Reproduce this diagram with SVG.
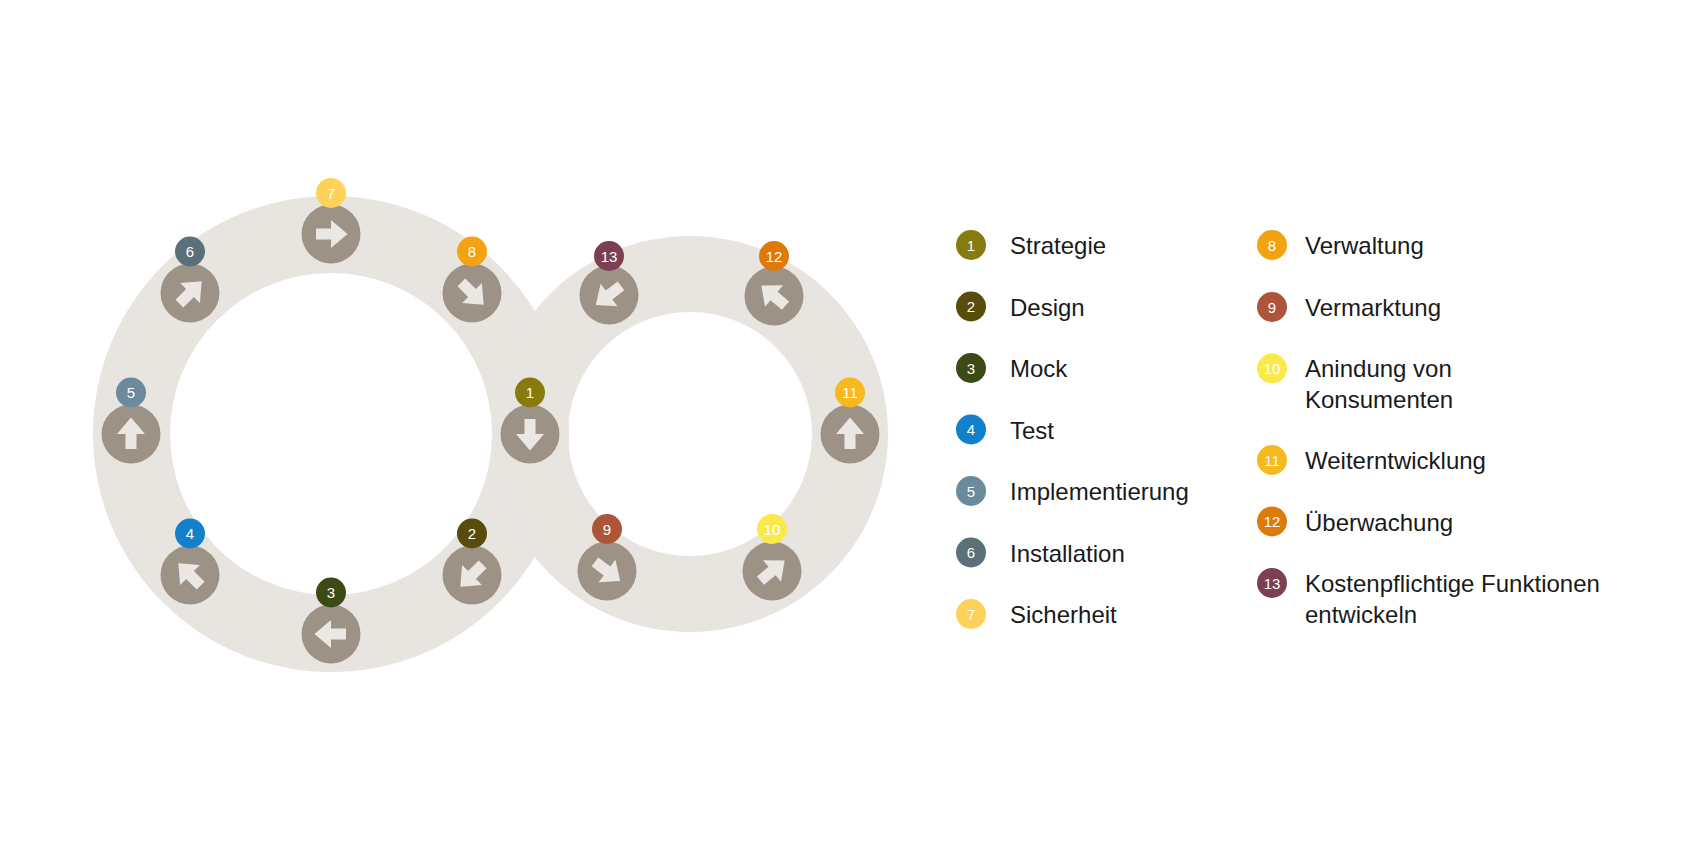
<svg xmlns="http://www.w3.org/2000/svg" xmlns:xlink="http://www.w3.org/1999/xlink" width="1700" height="850" viewBox="0 0 1700 850">
<style>
.ring{fill:#e8e5e1;fill-rule:evenodd}
.ac{fill:#9c9386}
.ag{fill:#ebe8e4}
.bt{font-family:"Liberation Sans",Arial,sans-serif;font-size:15px;fill:#ffffff;text-anchor:middle}
.lt{font-family:"Liberation Sans",Arial,sans-serif;font-size:24px;fill:#1a1a1a}
</style>
<defs>
<polygon id="arr" class="ag" points="-15,-5.5 0,-5.5 0,-14 16.5,0 0,14 0,5.5 -15,5.5"/>
</defs>
<rect width="1700" height="850" fill="#ffffff"/>
<g id="rings">
<path class="ring" d="M93,434a238,238 0 1,0 476,0a238,238 0 1,0 -476,0ZM170,434a161,161 0 1,0 322,0a161,161 0 1,0 -322,0Z"/>
<path class="ring" d="M492,434a198,198 0 1,0 396,0a198,198 0 1,0 -396,0ZM568,434a122,122 0 1,0 244,0a122,122 0 1,0 -244,0Z"/>
</g>
<g id="connectors"></g>
<g id="n1"><circle class="ac" cx="530" cy="434" r="29.5"/><use href="#arr" transform="translate(530,434) rotate(90)"/><circle cx="530" cy="392.5" r="15" fill="#877a0e"/><text class="bt" x="530" y="398">1</text></g>
<g id="n2"><circle class="ac" cx="472" cy="575" r="29.5"/><use href="#arr" transform="translate(472,575) rotate(135)"/><circle cx="472" cy="533.5" r="15" fill="#574c0a"/><text class="bt" x="472" y="539">2</text></g>
<g id="n3"><circle class="ac" cx="331" cy="634" r="29.5"/><use href="#arr" transform="translate(331,634) rotate(180)"/><circle cx="331" cy="592.5" r="15" fill="#3c4a16"/><text class="bt" x="331" y="598">3</text></g>
<g id="n4"><circle class="ac" cx="190" cy="575" r="29.5"/><use href="#arr" transform="translate(190,575) rotate(-135)"/><circle cx="190" cy="533.5" r="15" fill="#1380cc"/><text class="bt" x="190" y="539">4</text></g>
<g id="n5"><circle class="ac" cx="131" cy="434" r="29.5"/><use href="#arr" transform="translate(131,434) rotate(-90)"/><circle cx="131" cy="392.5" r="15" fill="#6b8a9b"/><text class="bt" x="131" y="398">5</text></g>
<g id="n6"><circle class="ac" cx="190" cy="293" r="29.5"/><use href="#arr" transform="translate(190,293) rotate(-45)"/><circle cx="190" cy="251.5" r="15" fill="#5b7079"/><text class="bt" x="190" y="257">6</text></g>
<g id="n7"><circle class="ac" cx="331" cy="234" r="29.5"/><use href="#arr" transform="translate(331,234)"/><circle cx="331" cy="193" r="15" fill="#fdd15a"/><text class="bt" x="331" y="198.5">7</text></g>
<g id="n8"><circle class="ac" cx="472" cy="293" r="29.5"/><use href="#arr" transform="translate(472,293) rotate(45)"/><circle cx="472" cy="251.5" r="15" fill="#f2a30f"/><text class="bt" x="472" y="257">8</text></g>
<g id="n9"><circle class="ac" cx="607" cy="571" r="29.5"/><use href="#arr" transform="translate(607,571) rotate(37)"/><circle cx="607" cy="529" r="15" fill="#ad5539"/><text class="bt" x="607" y="534.5">9</text></g>
<g id="n10"><circle class="ac" cx="772" cy="571" r="29.5"/><use href="#arr" transform="translate(772,571) rotate(-40)"/><circle cx="772" cy="529" r="15" fill="#f9e94a"/><text class="bt" x="772" y="534.5">10</text></g>
<g id="n11"><circle class="ac" cx="850" cy="434" r="29.5"/><use href="#arr" transform="translate(850,434) rotate(-90)"/><circle cx="850" cy="392.5" r="15" fill="#f7b91f"/><text class="bt" x="850" y="398">11</text></g>
<g id="n12"><circle class="ac" cx="774" cy="296" r="29.5"/><use href="#arr" transform="translate(774,296) rotate(-140)"/><circle cx="774" cy="256" r="15" fill="#dd7a0a"/><text class="bt" x="774" y="261.5">12</text></g>
<g id="n13"><circle class="ac" cx="609" cy="295" r="29.5"/><use href="#arr" transform="translate(609,295) rotate(143)"/><circle cx="609" cy="256" r="15" fill="#7c4052"/><text class="bt" x="609" y="261.5">13</text></g>
<g id="legend">
<g id="l1"><circle cx="971" cy="245" r="15" fill="#877a0e"/><text class="bt" x="971" y="250.5">1</text><text class="lt" x="1010" y="254">Strategie</text></g>
<g id="l2"><circle cx="971" cy="306.5" r="15" fill="#574c0a"/><text class="bt" x="971" y="312">2</text><text class="lt" x="1010" y="315.5">Design</text></g>
<g id="l3"><circle cx="971" cy="368" r="15" fill="#3c4a16"/><text class="bt" x="971" y="373.5">3</text><text class="lt" x="1010" y="377">Mock</text></g>
<g id="l4"><circle cx="971" cy="429.5" r="15" fill="#1380cc"/><text class="bt" x="971" y="435">4</text><text class="lt" x="1010" y="438.5">Test</text></g>
<g id="l5"><circle cx="971" cy="491" r="15" fill="#6b8a9b"/><text class="bt" x="971" y="496.5">5</text><text class="lt" x="1010" y="500">Implementierung</text></g>
<g id="l6"><circle cx="971" cy="552.5" r="15" fill="#5b7079"/><text class="bt" x="971" y="558">6</text><text class="lt" x="1010" y="561.5">Installation</text></g>
<g id="l7"><circle cx="971" cy="614" r="15" fill="#fdd15a"/><text class="bt" x="971" y="619.5">7</text><text class="lt" x="1010" y="623">Sicherheit</text></g>
<g id="l8"><circle cx="1272" cy="245" r="15" fill="#f2a30f"/><text class="bt" x="1272" y="250.5">8</text><text class="lt" x="1305" y="254">Verwaltung</text></g>
<g id="l9"><circle cx="1272" cy="307" r="15" fill="#ad5539"/><text class="bt" x="1272" y="312.5">9</text><text class="lt" x="1305" y="316">Vermarktung</text></g>
<g id="l10"><circle cx="1272" cy="368.5" r="15" fill="#f9e94a"/><text class="bt" x="1272" y="374">10</text><text class="lt" x="1305" y="377"><tspan x="1305">Anindung von</tspan><tspan x="1305" dy="30.7">Konsumenten</tspan></text></g>
<g id="l11"><circle cx="1272" cy="460" r="15" fill="#f7b91f"/><text class="bt" x="1272" y="465.5">11</text><text class="lt" x="1305" y="469">Weiterntwicklung</text></g>
<g id="l12"><circle cx="1272" cy="521.5" r="15" fill="#dd7a0a"/><text class="bt" x="1272" y="527">12</text><text class="lt" x="1305" y="530.5">Überwachung</text></g>
<g id="l13"><circle cx="1272" cy="583" r="15" fill="#7c4052"/><text class="bt" x="1272" y="588.5">13</text><text class="lt" x="1305" y="592"><tspan x="1305">Kostenpflichtige Funktionen</tspan><tspan x="1305" dy="30.7">entwickeln</tspan></text></g>
</g>
</svg>
